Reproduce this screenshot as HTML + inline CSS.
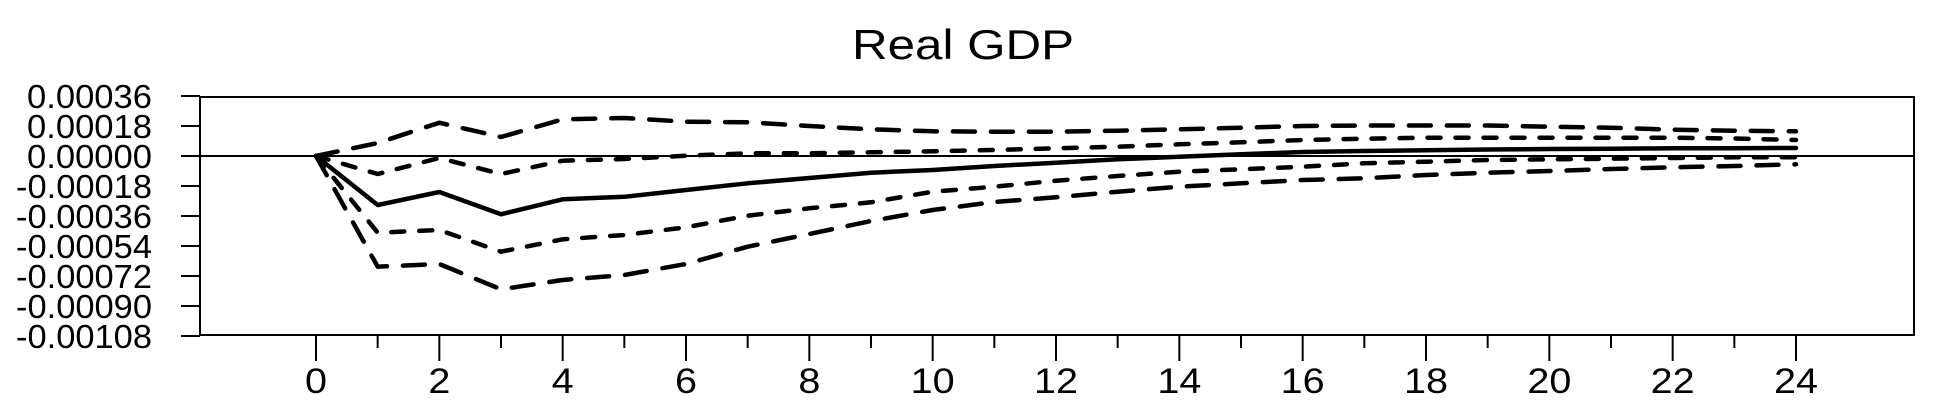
<!DOCTYPE html>
<html><head><meta charset="utf-8"><style>
html,body{margin:0;padding:0;background:#fff;width:1950px;height:415px;overflow:hidden}
svg{display:block;font-family:"Liberation Sans",sans-serif}
</style></head><body>
<svg id="chart" width="1950" height="415">
<text x="963" y="59" font-size="42" text-anchor="middle" textLength="222" lengthAdjust="spacingAndGlyphs">Real GDP</text>
<rect x="200" y="97" width="1714" height="238" fill="none" stroke="#000" stroke-width="2"/>
<g id="yaxis"></g>
<g id="xaxis"></g>
<g id="series"></g>
</svg>
<script>
const periods = [0,1,2,3,4,5,6,7,8,9,10,11,12,13,14,15,16,17,18,19,20,21,22,23,24];
// values in units of 1e-5
const response = [0,-29.4,-21.6,-35,-26,-24.5,-20.4,-16.4,-13.2,-10,-8.4,-6,-4,-2,-0.4,1,2.4,3,3.5,3.9,4.2,4.4,4.6,4.7,4.8];
const upperOuter = [0,7.8,20,11.4,22,22.8,20.6,20.2,18,16,14.8,14.6,14.6,15.2,16,17,18,18.3,18.3,18.3,17.6,17,15.8,15.2,14.8];
const upperInner = [0,-10.8,-1.2,-10.8,-2.8,-1.8,0.2,1.6,1.6,2.2,2.8,3.6,4.6,5.6,7,8.2,9.6,10.4,11,11,11,11,11,10.5,9.6];
const lowerInner = [0,-46,-44.4,-57.4,-50,-47.4,-42.8,-35.8,-31.4,-27.8,-21.4,-18.4,-14.8,-12,-9.4,-8,-6.4,-4.4,-3.4,-2.4,-2,-1.6,-1.2,-0.8,-0.8];
const lowerOuter = [0,-66.4,-64.8,-80,-74.4,-71.4,-64.8,-54.4,-46.8,-39,-32.4,-27.6,-24.8,-21.4,-18.4,-16.4,-14.4,-13.4,-11.4,-10,-9,-7.8,-6.8,-6,-5];
const yTicks = [36,18,0,-18,-36,-54,-72,-90,-108];
const yTickLabels = ["0.00036","0.00018","0.00000","-0.00018","-0.00036","-0.00054","-0.00072","-0.00090","-0.00108"];
const xTickLabels = [0,2,4,6,8,10,12,14,16,18,20,22,24];

const NS="http://www.w3.org/2000/svg";
const X = p => 316 + p*(1796-316)/24;
const Y = v => 156 - v*30/18;
function mk(tag, attrs, parent){const e=document.createElementNS(NS,tag);for(const k in attrs)e.setAttribute(k,attrs[k]);parent.appendChild(e);return e;}
const ya=document.getElementById('yaxis'), xa=document.getElementById('xaxis'), sg=document.getElementById('series');
yTicks.forEach((v,i)=>{
  const t=mk('line',{x1:181,x2:200,y1:Y(v),y2:Y(v),stroke:'#000','stroke-width':2},ya);
  
  
  const s=yTickLabels[i];
  const w=s.startsWith('-')?136:125;
  const l=mk('text',{x:152-w,y:Y(v)+12,'font-size':33,textLength:w,lengthAdjust:'spacingAndGlyphs'},ya);
  l.textContent=s;
  
  
});
const z=mk('line',{x1:181,x2:1914,y1:Y(0),y2:Y(0),stroke:'#000','stroke-width':2},ya);


periods.forEach(p=>{
  const major=p%2===0;
  const t=mk('line',{x1:X(p),x2:X(p),y1:335,y2:major?361:348,stroke:'#000','stroke-width':2},xa);
  
  
});
xTickLabels.forEach(p=>{
  const s=String(p);
  const w=s.length*22;
  const l=mk('text',{x:X(p)-w/2,y:393,'font-size':35,textLength:w,lengthAdjust:'spacingAndGlyphs'},xa);
  l.textContent=s;
  
  
});
function line(vals,dash,name){
  const d=vals.map((v,i)=>(i?'L':'M')+X(periods[i]).toFixed(1)+','+Y(v).toFixed(1)).join(' ');
  const p=mk('path',{d:d,fill:'none',stroke:'#000','stroke-width':4.5,'stroke-linecap':'round','stroke-linejoin':'round'},sg);
  if(dash)p.setAttribute('stroke-dasharray',dash);
  
  
}
line(upperOuter,'22 16','upper-outer-band');
line(upperInner,'13 15','upper-inner-band');
line(response,null,'impulse-response-line');
line(lowerInner,'13 15','lower-inner-band');
line(lowerOuter,'22 16','lower-outer-band');
</script>
</body></html>
